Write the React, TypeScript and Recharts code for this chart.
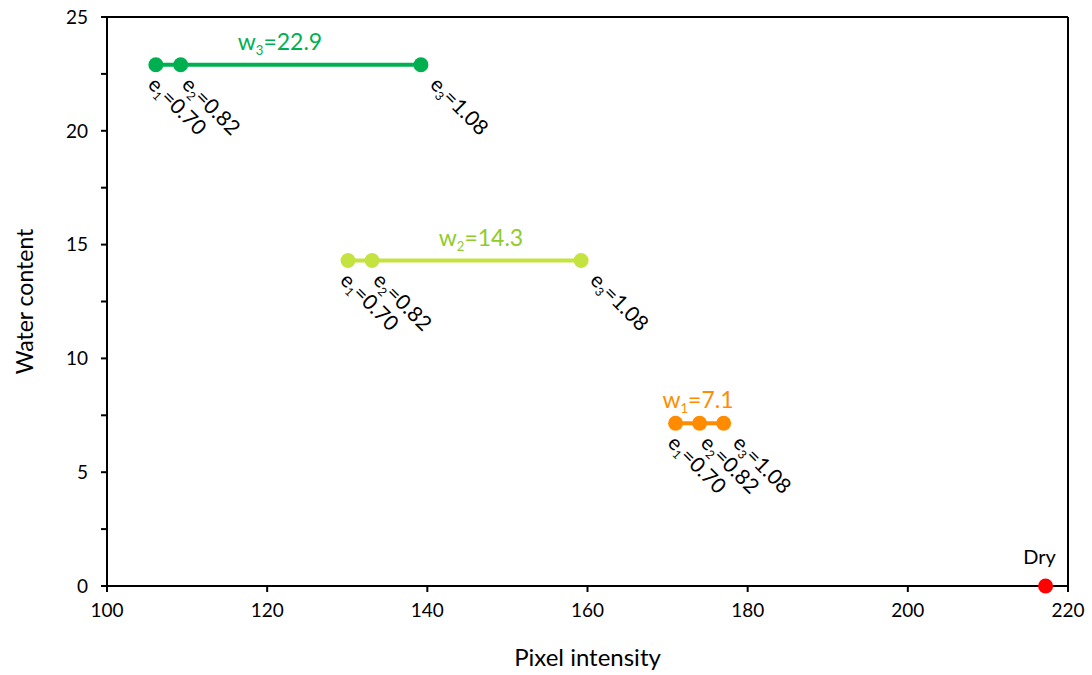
import React from 'react';
import { ComposedChart, Scatter, XAxis, YAxis, ReferenceLine, Label } from 'recharts';

// Pixel intensity of each measurement (e1, e2, e3) for each water content level
const pixelW1 = [171.0, 174.0, 177.0];
const pixelW2 = [130.1, 133.1, 159.2];
const pixelW3 = [106.1, 109.2, 139.2];
const waterW1 = 7.15;
const waterW2 = 14.3;
const waterW3 = 22.9;
const dryPixel = 217.2;
const dryWater = 0;

const eIndex = ['1', '2', '3'];
const eValues = ['0.70', '0.82', '1.08'];

const wNames = ['1', '2', '3'];
const wTexts = ['7.1', '14.3', '22.9'];
const wLabelX = [173.8, 146.7, 121.6];

const xTicks = [100, 120, 140, 160, 180, 200, 220];
const yTicks = [0, 2.5, 5, 7.5, 10, 12.5, 15, 17.5, 20, 22.5, 25];

const FONT = 'Lato, "Open Sans", sans-serif';
// horizontal nudges of the rotated e-labels (by measurement index)
const LABEL_DX = [-7, 2, 10];

const makeSeries = (xs: number[], y: number) =>
  xs.map((x, i) => ({ x, y, k: i, ei: eIndex[i], ev: eValues[i] }));

const dataW1 = makeSeries(pixelW1, waterW1);
const dataW2 = makeSeries(pixelW2, waterW2);
const dataW3 = makeSeries(pixelW3, waterW3);
const dataDry = [{ x: dryPixel, y: dryWater }];

const pointShape = (color: string) => (props: any) => {
  const { cx, cy, payload } = props;
  const ax = cx + LABEL_DX[payload.k] - 2;
  const ay = cy + 21;
  return (
    <g>
      <circle cx={cx} cy={cy} r={7.5} fill={color} />
      <text
        x={ax}
        y={ay}
        transform={`rotate(45, ${ax}, ${ay})`}
        fontFamily={FONT}
        fontSize={21}
        fill="#000"
      >
        <tspan>e</tspan>
        <tspan dy={4} fontSize={12}>{payload.ei}</tspan>
        <tspan dy={-4}>={payload.ev}</tspan>
      </text>
    </g>
  );
};

const wLabelShape = (color: string, idx: number) => (props: any) => {
  const { cx, cy } = props;
  return (
    <text x={cx} y={cy - 15} textAnchor="middle" fontFamily={FONT} fontSize={23} fill={color}>
      <tspan>w</tspan>
      <tspan dy={5} fontSize={13}>{wNames[idx]}</tspan>
      <tspan dy={-5}>={wTexts[idx]}</tspan>
    </text>
  );
};

const dryShape = (props: any) => {
  const { cx, cy } = props;
  return (
    <g>
      <circle cx={cx} cy={cy} r={7.5} fill="#FF0000" />
      <text x={cx - 6} y={cy - 22} textAnchor="middle" fontFamily={FONT} fontSize={20} fill="#000">
        Dry
      </text>
    </g>
  );
};

const GREEN = '#00B050';
const LIME = '#C5E340';
const LIME_TEXT = '#8FCB2A';
const ORANGE = '#FF8C00';

export default function App() {
  return (
    <div style={{ position: 'absolute', left: 0, top: 0, background: '#fff' }}>
      <ComposedChart
        width={1092}
        height={675}
        margin={{ top: 17, right: 24, bottom: 29, left: 47 }}
      >
        <XAxis
          type="number"
          dataKey="x"
          domain={[100, 220]}
          ticks={xTicks}
          stroke="#000"
          strokeWidth={2}
          tickSize={6}
          height={60}
          tick={{ fill: '#000', fontSize: 19, fontFamily: FONT }}
          tickMargin={12}
        >
          <Label
            value="Pixel intensity"
            position="insideBottom"
            offset={-20}
            style={{ fill: '#000', fontSize: 24, fontFamily: FONT }}
          />
        </XAxis>
        <YAxis
          type="number"
          dataKey="y"
          domain={[0, 25]}
          ticks={yTicks}
          interval={0}
          stroke="#000"
          strokeWidth={2}
          tickSize={6}
          width={60}
          tickFormatter={(v: number) => (v % 5 === 0 ? String(v) : '')}
          tick={{ fill: '#000', fontSize: 19, fontFamily: FONT }}
          tickMargin={13}
        >
          <Label
            value="Water content"
            angle={-90}
            position="insideLeft"
            offset={-22}
            style={{ fill: '#000', fontSize: 23, fontFamily: FONT, textAnchor: 'middle' }}
          />
        </YAxis>
        <ReferenceLine y={25} stroke="#000" strokeWidth={2} />
        <ReferenceLine x={220} stroke="#000" strokeWidth={2} />
        <Scatter
          data={dataW3}
          line={{ stroke: GREEN, strokeWidth: 4 }}
          shape={pointShape(GREEN)}
          isAnimationActive={false}
        />
        <Scatter
          data={dataW2}
          line={{ stroke: LIME, strokeWidth: 4 }}
          shape={pointShape(LIME)}
          isAnimationActive={false}
        />
        <Scatter
          data={dataW1}
          line={{ stroke: ORANGE, strokeWidth: 4 }}
          shape={pointShape(ORANGE)}
          isAnimationActive={false}
        />
        <Scatter data={dataDry} shape={dryShape} isAnimationActive={false} />
        <Scatter
          data={[{ x: wLabelX[2], y: waterW3 }]}
          shape={wLabelShape(GREEN, 2)}
          isAnimationActive={false}
        />
        <Scatter
          data={[{ x: wLabelX[1], y: waterW2 }]}
          shape={wLabelShape(LIME_TEXT, 1)}
          isAnimationActive={false}
        />
        <Scatter
          data={[{ x: wLabelX[0], y: waterW1 }]}
          shape={wLabelShape(ORANGE, 0)}
          isAnimationActive={false}
        />
      </ComposedChart>
    </div>
  );
}
